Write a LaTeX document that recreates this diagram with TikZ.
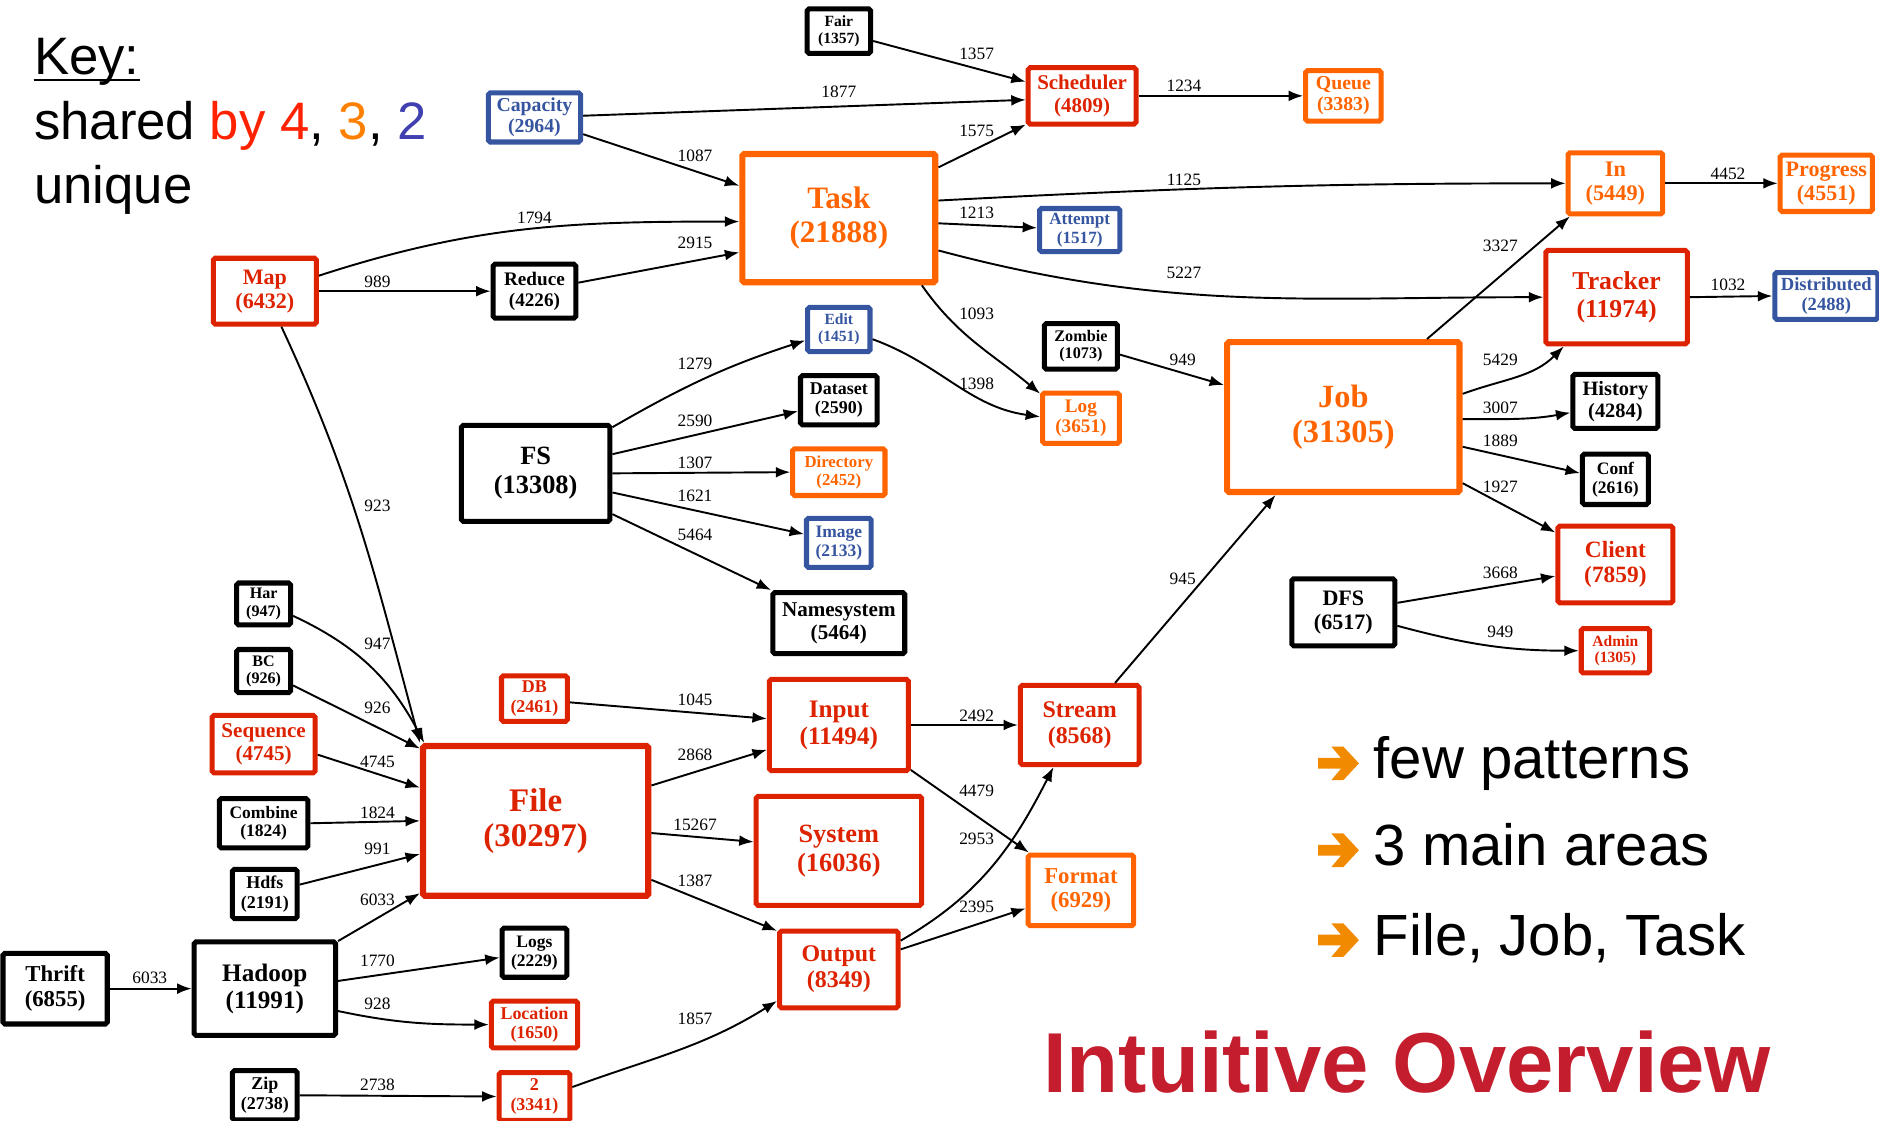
\documentclass[tikz,border=0pt]{standalone}
\usepackage{fontspec}
\setmainfont{Liberation Serif}
\newfontfamily\arialfont{Liberation Sans}
\usetikzlibrary{arrows.meta}

\definecolor{cred}{RGB}{221,34,0}
\definecolor{corange}{RGB}{255,100,0}
\definecolor{cblue}{RGB}{54,85,160}
\definecolor{kred}{RGB}{255,34,0}
\definecolor{korange}{RGB}{255,128,0}
\definecolor{kblue}{RGB}{64,64,176}
\definecolor{ovred}{RGB}{196,30,46}
\definecolor{bulorange}{RGB}{242,138,0}

% bold node font: size / baselineskip
\newcommand\nf[2]{\fontsize{#1}{#2}\selectfont\bfseries}

\begin{document}
\begin{tikzpicture}[x=0.5pt,y=-0.5pt,
  box/.style={draw, line width=2.1pt, rounded corners=0.8pt, inner sep=0pt, align=center},
  big/.style={line width=2.6pt},
  rbox/.style={box, draw=cred, text=cred},
  obox/.style={box, draw=corange, text=corange},
  bbox/.style={box, draw=cblue, text=cblue},
  kbox/.style={box, draw=black, text=black},
  sz/.style 2 args={minimum width={(#1-4)*0.5pt}, minimum height={(#2-4)*0.5pt}},
  conn/.style={draw=black, line width=0.8pt, -{Latex[length=6pt,width=4.5pt]}},
  lbl/.style={font=\fontsize{7.25}{8}\selectfont, inner sep=0pt},
  keyfont/.style={font=\arialfont\fontsize{22}{26}\selectfont, inner sep=0pt, anchor=base west},
  bulfont/.style={font=\arialfont\fontsize{24.25}{28}\selectfont, inner sep=0pt, anchor=base west},
  bularrow/.style={fill=bulorange}
]
\useasboundingbox (0,0) rectangle (1568,935);

% ---------- key ----------
\node[keyfont] (keyhd) at (28,62) {Key:};
\draw[line width=1pt] ([yshift=-2.5pt]keyhd.base west) -- ([yshift=-2.5pt]keyhd.base east);
\node[keyfont] (keyshared) at (28,116) {shared \textcolor{kred}{by 4}, \textcolor{korange}{3}, \textcolor{kblue}{2}};
\node[keyfont] (keyunique) at (28,170) {unique};

% ---------- nodes ----------
\node[kbox, sz={57}{41}, font=\nf{6.5}{7}] (fair) at (700,26) {Fair\\(1357)};
\node[bbox, sz={81}{45}, font=\nf{8.25}{8.9}] (cap) at (446,98) {Capacity\\(2964)};
\node[rbox, sz={94}{51}, font=\nf{8.75}{9.5}] (sched) at (903,80) {Scheduler\\(4809)};
\node[obox, sz={67}{46}, font=\nf{8.25}{8.9}] (queue) at (1121,80) {Queue\\(3383)};
\node[obox, big, sz={165}{111}, font=\nf{13}{14}] (task) at (700,182) {Task\\(21888)};
\node[bbox, sz={71}{40}, font=\nf{7.15}{7.7}] (att) at (901,192) {Attempt\\(1517)};
\node[obox, sz={83}{55}, font=\nf{9.3}{10}] (in) at (1348,153) {In\\(5449)};
\node[obox, sz={81}{51}, font=\nf{9.2}{10}] (prog) at (1524,153) {Progress\\(4551)};
\node[rbox, sz={90}{59}, font=\nf{9.2}{10}] (map) at (221,243) {Map\\(6432)};
\node[kbox, sz={73}{49}, font=\nf{8}{8.7}] (reduce) at (446,243) {Reduce\\(4226)};
\node[rbox, sz={122}{82}, font=\nf{10.75}{11.6}] (tracker) at (1349,248) {Tracker\\(11974)};
\node[bbox, sz={90}{43}, font=\nf{7.75}{8.4}] (dist) at (1524,247) {Distributed\\(2488)};
\node[bbox, sz={56}{41}, font=\nf{6.5}{7}] (edit) at (700,275) {Edit\\(1451)};
\node[kbox, sz={65}{42}, font=\nf{6.75}{7.3}] (zombie) at (902,289) {Zombie\\(1073)};
\node[kbox, sz={68}{45}, font=\nf{7.5}{8.1}] (dataset) at (700,334) {Dataset\\(2590)};
\node[obox, sz={68}{46}, font=\nf{8}{8.7}] (log) at (902,349) {Log\\(3651)};
\node[kbox, sz={128}{84}, font=\nf{11}{12}] (fs) at (447,395) {FS\\(13308)};
\node[obox, big, sz={198}{129}, font=\nf{13.5}{14.6}] (job) at (1121,348) {Job\\(31305)};
\node[kbox, sz={75}{49}, font=\nf{8.5}{9.2}] (history) at (1348,335) {History\\(4284)};
\node[obox, sz={81}{43}, font=\nf{7}{7.6}] (dir) at (700,394) {Directory\\(2452)};
\node[kbox, sz={59}{46}, font=\nf{7.3}{7.9}] (conf) at (1348,400) {Conf\\(2616)};
\node[bbox, sz={58}{45}, font=\nf{7.3}{7.9}] (image) at (700,453) {Image\\(2133)};
\node[rbox, sz={100}{68}, font=\nf{9.75}{10.5}] (client) at (1348,471) {Client\\(7859)};
\node[kbox, sz={90}{60}, font=\nf{9.2}{10}] (dfs) at (1121,511) {DFS\\(6517)};
\node[kbox, sz={114}{55}, font=\nf{8.8}{9.5}] (names) at (700,520) {Namesystem\\(5464)};
\node[rbox, sz={61}{41}, font=\nf{6.5}{7}] (admin) at (1348,543) {Admin\\(1305)};
\node[kbox, sz={49}{39}, font=\nf{6.7}{7.2}] (har) at (220,504) {Har\\(947)};
\node[kbox, sz={49}{40}, font=\nf{6.7}{7.2}] (bc) at (220,560) {BC\\(926)};
\node[rbox, sz={90}{52}, font=\nf{8.8}{9.5}] (seq) at (220,621) {Sequence\\(4745)};
\node[rbox, sz={59}{42}, font=\nf{7.5}{8.1}] (db) at (446,583) {DB\\(2461)};
\node[rbox, sz={120}{80}, font=\nf{10.5}{11.3}] (input) at (700,605) {Input\\(11494)};
\node[rbox, sz={103}{70}, font=\nf{10}{10.8}] (stream) at (901,605) {Stream\\(8568)};
\node[rbox, big, sz={192}{129}, font=\nf{13.75}{14.8}] (file) at (447,685) {File\\(30297)};
\node[kbox, sz={78}{45}, font=\nf{7.3}{7.9}] (combine) at (220,687) {Combine\\(1824)};
\node[rbox, sz={142}{95}, font=\nf{11}{12}] (system) at (700,710) {System\\(16036)};
\node[kbox, sz={58}{45}, font=\nf{7.5}{8.1}] (hdfs) at (221,746) {Hdfs\\(2191)};
\node[obox, sz={92}{63}, font=\nf{9.5}{10.3}] (format) at (902,743) {Format\\(6929)};
\node[kbox, sz={91}{63}, font=\nf{9.5}{10.3}] (thrift) at (46,825) {Thrift\\(6855)};
\node[kbox, sz={122}{82}, font=\nf{10.5}{11.3}] (hadoop) at (221,825) {Hadoop\\(11991)};
\node[kbox, sz={58}{45}, font=\nf{7.3}{7.9}] (logs) at (446,795) {Logs\\(2229)};
\node[rbox, sz={103}{68}, font=\nf{10}{10.8}] (output) at (700,809) {Output\\(8349)};
\node[rbox, sz={76}{43}, font=\nf{7.5}{8.1}] (loc) at (446,855) {Location\\(1650)};
\node[kbox, sz={58}{45}, font=\nf{7.5}{8.1}] (zip) at (221,914) {Zip\\(2738)};
\node[rbox, sz={63}{44}, font=\nf{7.5}{8.1}] (two) at (446,915) {2\\(3341)};

% ---------- connectors ----------
\draw[conn] (fair.-16) -- (sched.166);
\draw[conn] (cap.2) -- (sched.-176);
\draw[conn] (cap.-19) -- (task.162);
\draw[conn] (task.27) -- (sched.207);
\draw[conn] (sched.east) -- (queue.west);
\draw[conn] (task.10) to[out=3,in=180] (in.west);
\draw[conn] (task.-3) -- (att.177);
\draw[conn] (task.-18) to[out=-15,in=180] (tracker.west);
\draw[conn] (task.-39) to[out=-55,in=140] (log.149);
\draw[conn] (map.16) to[out=18,in=180] (task.182);
\draw[conn] (map.east) -- (reduce.west);
\draw[conn] (reduce.11) -- (task.199);
\draw[conn] (map.-65) to[out=-65,in=105] (file.146);
\draw[conn] (in.east) -- (prog.west);
\draw[conn] (job.43) -- (in.216);
\draw[conn] (tracker.east) -- (dist.west);
\draw[conn] (job.11) to[out=20,in=225] (tracker.223);
\draw[conn] (job.-1) to[out=0,in=190] (history.194);
\draw[conn] (job.-14) -- (conf.170);
\draw[conn] (job.-29) -- (client.152);
\draw[conn] (dfs.10) -- (client.191);
\draw[conn] (dfs.-14) to[out=-15,in=180] (admin.west);
\draw[conn] (zombie.-12) -- (job.165);
\draw[conn] (edit.-16) to[out=-20,in=172] (log.178);
\draw[conn] (fs.31) to[out=30,in=198] (edit.198);
\draw[conn] (fs.14) -- (dataset.195);
\draw[conn] (fs.east) -- (dir.west);
\draw[conn] (fs.-14) -- (image.166);
\draw[conn] (fs.-28) -- (names.154);
\draw[conn] (stream.50) -- (job.229);
\draw[conn] (har.-22) to[out=-25,in=118] (file.145);
\draw[conn] (bc.-26) -- (file.148);
\draw[conn] (seq.-11) -- (file.164);
\draw[conn] (combine.east) -- (file.west);
\draw[conn] (hdfs.15) -- (file.196);
\draw[conn] (hadoop.33) -- (file.212);
\draw[conn] (thrift.east) -- (hadoop.west);
\draw[conn] (hadoop.6) -- (logs.188);
\draw[conn] (hadoop.-17) to[out=-12,in=180] (loc.west);
\draw[conn] (zip.east) -- (two.west);
\draw[conn] (two.14) to[out=20,in=212] (output.207);
\draw[conn] (db.-6) -- (input.175);
\draw[conn] (file.17) -- (input.199);
\draw[conn] (file.-6) -- (system.174);
\draw[conn] (file.-27) -- (output.148);
\draw[conn] (input.east) -- (stream.west);
\draw[conn] (input.-32) -- (format.144);
\draw[conn] (output.25) to[out=30,in=243] (stream.238);
\draw[conn] (output.18) -- (format.198);

% ---------- connector weights ----------
\foreach \n/\x/\y/\t in {
  1/815/45/1357, 2/700/77/1877, 3/580/130/1087, 4/815/109/1575,
  5/988/72/1234, 6/988/150/1125, 7/815/178/1213, 8/988/228/5227,
  9/815/262/1093, 10/446/182/1794, 11/315/235/989, 12/580/203/2915,
  13/315/422/923, 14/1442/145/4452, 15/1252/205/3327, 16/1442/238/1032,
  17/1252/300/5429, 18/1252/340/3007, 19/1252/368/1889, 20/1252/406/1927,
  21/1252/478/3668, 22/1252/527/949, 23/987/300/949, 24/815/320/1398,
  25/580/304/1279, 26/580/351/2590, 27/580/386/1307, 28/580/414/1621,
  29/580/446/5464, 30/987/483/945, 31/315/537/947, 32/315/591/926,
  33/315/636/4745, 34/315/678/1824, 35/315/708/991, 36/315/751/6033,
  37/125/816/6033, 38/315/802/1770, 39/315/838/928, 40/315/905/2738,
  41/580/850/1857, 42/580/584/1045, 43/580/630/2868, 44/580/688/15267,
  45/580/735/1387, 46/815/597/2492, 47/815/660/4479, 48/815/700/2953,
  49/815/757/2395}
  \node[lbl] (lb\n) at (\x,\y) {\t};

% ---------- bullet list ----------
\foreach \yy in {637,709.5,784.5}
  \fill[bularrow, shift={(1100,\yy)}] (0,-4.5) -- (19,-4.5) -- (11,-14) -- (21,-14)
    -- (34,0) -- (21,14) -- (11,14) -- (19,4.5) -- (0,4.5) -- cycle;
\node[bulfont] (bul1) at (1146,650) {few patterns};
\node[bulfont] (bul2) at (1146,722) {3 main areas};
\node[bulfont] (bul3) at (1146,797) {File, Job, Task};

% ---------- title ----------
\node[anchor=base west, inner sep=0pt, text=ovred,
      font=\arialfont\bfseries\fontsize{35.5}{40}\selectfont] (title) at (870,912) {Intuitive Overview};
\end{tikzpicture}
\end{document}
